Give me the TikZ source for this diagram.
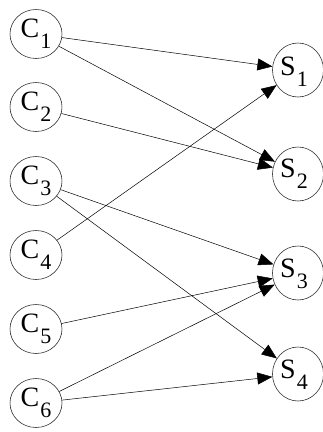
\documentclass[tikz,border=0pt]{standalone}
\usepackage{fontspec}
\setmainfont{Liberation Serif}
\usetikzlibrary{shapes.geometric,arrows.meta}
\newcommand\sublbl[2]{#1\hspace{1pt}\raisebox{-11pt}{\fontsize{22}{22}\selectfont #2}}
\begin{document}
\begin{tikzpicture}[x=1pt,y=-1pt,
  vtx/.style={ellipse,draw=black!80,line width=0.6pt,inner sep=0pt,
    font=\fontsize{28}{28}\selectfont},
  cvtx/.style={vtx,minimum width=52pt,minimum height=49pt},
  svtx/.style={vtx,minimum width=51pt,minimum height=54pt},
  lbl/.style={inner sep=0pt,font=\fontsize{28}{28}\selectfont},
  edge/.style={line width=0.5pt,-{Triangle[length=15pt,width=12pt]}}]
\useasboundingbox (0,0) rectangle (322,432);
% clients
\node[cvtx] (c1) at (36,34)  {\sublbl{C}{1}};
\node[cvtx] (c2) at (36,107) {\sublbl{C}{2}};
\node[cvtx] (c3) at (36,181) {\sublbl{C}{3}};
\node[cvtx] (c4) at (36,255) {\sublbl{C}{4}};
\node[cvtx] (c5) at (36,329) {\sublbl{C}{5}};
\node[cvtx] (c6) at (36,403) {\sublbl{C}{6}};
% servers (labels sit a little left of centre)
\node[svtx] (s1) at (298,70)  {};
\node[svtx] (s2) at (298,174) {};
\node[svtx] (s3) at (298,273) {};
\node[svtx] (s4) at (298,374) {};
\node[lbl] (s1t) at (294,72)  {\sublbl{S}{1}};
\node[lbl] (s2t) at (294,174) {\sublbl{S}{2}};
\node[lbl] (s3t) at (294,274) {\sublbl{S}{3}};
\node[lbl] (s4t) at (294,375) {\sublbl{S}{4}};
% links
\draw[edge] (c1) -- (s1);
\draw[edge] (c1) -- (s2);
\draw[edge] (c2) -- (s2);
\draw[edge] (c3) -- (s3);
\draw[edge] (c3) -- (s4);
\draw[edge] (c4) -- (s1);
\draw[edge] (c5) -- (s3);
\draw[edge] (c6) -- (s3);
\draw[edge] (c6) -- (s4);
\end{tikzpicture}
\end{document}
